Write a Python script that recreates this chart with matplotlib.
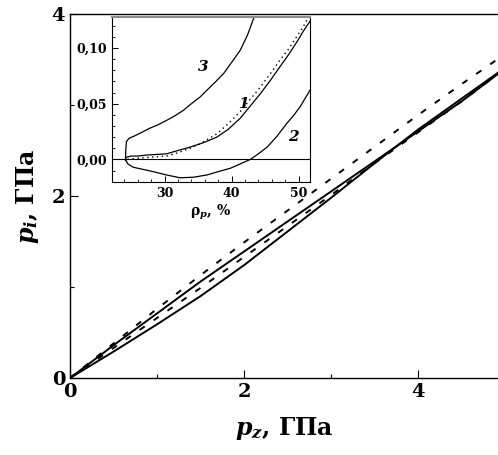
import matplotlib
matplotlib.use("Agg")
import matplotlib.pyplot as plt
from matplotlib.ticker import MultipleLocator

plt.rcParams['font.family'] = ['DejaVu Serif']
plt.rcParams['font.weight'] = 'bold'
plt.rcParams['mathtext.fontset'] = 'custom'
plt.rcParams['mathtext.it'] = 'DejaVu Serif:italic:bold'
plt.rcParams['mathtext.rm'] = 'DejaVu Serif:bold'
plt.rcParams['mathtext.bf'] = 'DejaVu Serif:bold'

# ---- main plot data (p_z, GPa -> p_i, GPa) ----
pz = [0, 0.5, 1.0, 1.5, 2.0, 2.5, 3.0, 3.5, 4.0, 4.5, 5.0]
pi_dash_top = [0, 0.38, 0.76, 1.13, 1.49, 1.84, 2.19, 2.54, 2.89, 3.23, 3.56]
pi_solid_up = [0, 0.36, 0.71, 1.06, 1.39, 1.72, 2.05, 2.38, 2.71, 3.04, 3.40]
pi_dash_low = [0, 0.33, 0.66, 0.99, 1.33, 1.67, 2.01, 2.36, 2.70, 3.04, 3.40]
pi_solid_low = [0, 0.29, 0.59, 0.90, 1.24, 1.61, 1.98, 2.36, 2.73, 3.07, 3.41]

main_xticks = [0, 2, 4]
main_yticks = [0, 2, 4]

# ---- inset data (rho_p, % -> value) ----
c3_x = [24.15, 24.2, 24.3, 24.7, 25.5, 26.5, 27.8, 29.0, 30.3, 31.5, 32.8, 34.0,
        35.3, 36.3, 37.5, 38.8, 40.0, 41.3, 42.4, 43.5]
c3_y = [-0.001, 0.008, 0.016, 0.019, 0.021, 0.024, 0.028, 0.031, 0.035, 0.039, 0.044, 0.050,
        0.056, 0.062, 0.069, 0.077, 0.087, 0.098, 0.112, 0.130]

c1_x = [24.15, 24.3, 25.0, 26.0, 27.5, 29.0, 30.3, 32.0, 33.8, 35.8, 37.8, 39.5, 41.3,
        42.8, 44.3, 45.8, 47.2, 48.5, 49.7, 50.7, 51.7]
c1_y = [0.0, 0.002, 0.003, 0.003, 0.004, 0.0045, 0.005, 0.008, 0.011, 0.015, 0.020, 0.027, 0.037,
        0.048, 0.059, 0.071, 0.083, 0.094, 0.105, 0.115, 0.124]

cd_x = [24.5, 26.0, 28.0, 30.3, 32.0, 33.8, 35.3, 37.8, 39.5, 41.3, 42.8, 44.3, 45.8,
        47.2, 48.5, 49.7, 50.7, 51.5]
cd_y = [0.0, 0.001, 0.002, 0.003, 0.006, 0.010, 0.014, 0.023, 0.032, 0.043, 0.054, 0.065, 0.077,
        0.089, 0.099, 0.110, 0.119, 0.128]

c2_x = [24.15, 24.5, 25.3, 26.8, 28.3, 30.3, 32.3, 34.3, 36.3, 38.0, 39.8, 41.3, 42.8,
        44.0, 45.3, 46.8, 48.2, 49.2, 50.2, 51.0, 51.7]
c2_y = [0.0, -0.004, -0.007, -0.009, -0.011, -0.014, -0.0165, -0.016, -0.014, -0.011, -0.008, -0.004, 0.0,
        0.005, 0.011, 0.021, 0.032, 0.039, 0.047, 0.055, 0.062]

inset_xticks = [30, 40, 50]
inset_yticks = [0.00, 0.05, 0.10]
inset_yticklabels = ['0,00', '0,05', '0,10']

fig = plt.figure(figsize=(4.98, 4.55), dpi=100)
ax = fig.add_axes([0.1406, 0.1692, 0.8594, 0.7998])

dash = (0, (3.2, 5.5))
ax.plot(pz, pi_dash_top, color='black', lw=1.4, linestyle=dash)
ax.plot(pz, pi_solid_up, color='black', lw=1.4)
ax.plot(pz, pi_dash_low, color='black', lw=1.4, linestyle=dash)
ax.plot(pz, pi_solid_low, color='black', lw=1.4)

ax.set_xlim(0, 4.92)
ax.set_ylim(0, 4)
ax.set_xticks(main_xticks)
ax.set_yticks(main_yticks)
ax.xaxis.set_minor_locator(MultipleLocator(1))
ax.yaxis.set_minor_locator(MultipleLocator(1))
ax.tick_params(which='both', direction='in', labelsize=14)
ax.tick_params(which='major', length=6, width=0.8)
ax.tick_params(which='minor', length=3, width=0.8)
ax.spines['right'].set_visible(False)
for s in ['left', 'bottom', 'top']:
    ax.spines[s].set_linewidth(1.0)
for lbl in ax.get_xticklabels() + ax.get_yticklabels():
    lbl.set_fontweight('bold')
ax.set_xlabel(r'$p_z$, ГПа', fontsize=17, fontweight='bold', labelpad=10)
ax.set_ylabel(r'$p_i$, ГПа', fontsize=17, fontweight='bold', labelpad=8)

# ---- inset ----
ins = fig.add_axes([0.2243, 0.6007, 0.3982, 0.3626])
ins.axhline(0, color='black', lw=0.8)
ins.plot(c3_x, c3_y, color='black', lw=0.9)
ins.plot(c1_x, c1_y, color='black', lw=0.9)
ins.plot(cd_x, cd_y, color='black', lw=1.0, linestyle=(0, (1, 2.5)))
ins.plot(c2_x, c2_y, color='black', lw=0.9)
ins.set_xlim(22.1, 51.7)
ins.set_ylim(-0.02, 0.128)
ins.set_xticks(inset_xticks)
ins.set_yticks(inset_yticks)
ins.set_yticklabels(inset_yticklabels)
ins.xaxis.set_minor_locator(MultipleLocator(2))
ins.yaxis.set_minor_locator(MultipleLocator(0.01))
ins.tick_params(which='both', direction='in', labelsize=9)
ins.tick_params(which='major', length=4, width=0.7)
ins.tick_params(which='minor', length=2, width=0.6)
for s in ins.spines.values():
    s.set_linewidth(0.8)
ins.spines['top'].set_color('0.55')
ins.spines['top'].set_linewidth(1.5)
for lbl in ins.get_xticklabels() + ins.get_yticklabels():
    lbl.set_fontweight('bold')
ins.set_xlabel(r'ρ$_p$, %', fontsize=10, fontweight='bold', labelpad=2)
ins.text(35.8, 0.083, '3', fontsize=11, fontweight='bold', fontstyle='italic', ha='center', va='center')
ins.text(41.8, 0.050, '1', fontsize=11, fontweight='bold', fontstyle='italic', ha='center', va='center')
ins.text(49.2, 0.020, '2', fontsize=11, fontweight='bold', fontstyle='italic', ha='center', va='center')

fig.savefig('out.png', dpi=100)
